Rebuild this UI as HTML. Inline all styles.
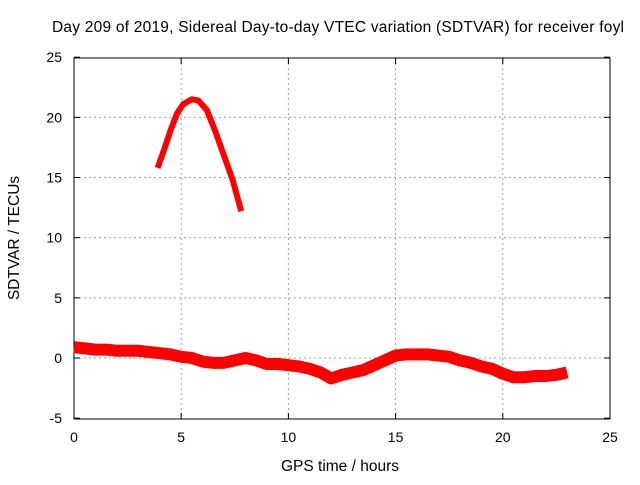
<!DOCTYPE html>
<html><head><meta charset="utf-8"><style>
body{margin:0;background:#fff;}
svg text{font-family:"Liberation Sans",sans-serif;font-size:14px;fill:#000;}
svg text.big{font-size:15.5px;}
</style></head><body>
<svg id="chart" width="640" height="480">
<g id="grid"></g><g id="axes"></g><g id="series"></g>
<text class="big" x="338" y="32" text-anchor="middle" textLength="572">Day 209 of 2019, Sidereal Day-to-day VTEC variation (SDTVAR) for receiver foyl</text>
<text class="big" x="340" y="471" text-anchor="middle">GPS time / hours</text>
<text class="big" transform="translate(19,238) rotate(-90)" text-anchor="middle">SDTVAR / TECUs</text>
</svg>
<script>
const xTicks=[0,5,10,15,20,25];
const yTicks=[-5,0,5,10,15,20,25];
const bottomHours=[0,0.5,1,1.5,2,2.5,3,3.5,4,4.5,5,5.5,6,6.5,7,7.5,8,8.5,9,9.5,10,10.5,11,11.5,12,12.5,13,13.5,14,14.5,15,15.5,16,16.5,17,17.5,18,18.5,19,19.5,20,20.5,21,21.5,22,22.5,23];
const bottomValues=[0.9,0.8,0.7,0.7,0.6,0.6,0.6,0.5,0.4,0.3,0.1,0,-0.3,-0.4,-0.4,-0.2,0,-0.2,-0.5,-0.5,-0.6,-0.7,-0.9,-1.2,-1.7,-1.4,-1.2,-1,-0.6,-0.2,0.2,0.3,0.3,0.3,0.2,0.1,-0.2,-0.4,-0.7,-0.9,-1.3,-1.6,-1.6,-1.5,-1.5,-1.4,-1.2];
const topHours=[3.9,4.2,4.5,4.8,5.1,5.5,5.8,6.2,6.6,7,7.4,7.8];
const topValues=[15.8,17.3,18.9,20.3,21.1,21.5,21.4,20.6,18.8,16.8,14.8,12.2];
const X=v=>74+v*(536/25), Y=v=>358-v*(361/30);
const ns="http://www.w3.org/2000/svg";
const grid=document.getElementById('grid'),axes=document.getElementById('axes'),ser=document.getElementById('series');
function mk(p,t,a){const e=document.createElementNS(ns,t);for(const k in a)e.setAttribute(k,a[k]);p.appendChild(e);return e;}
xTicks.forEach(t=>{
 if(t>0&&t<25){const g=mk(grid,'line',{x1:X(t),x2:X(t),y1:58,y2:419,stroke:'#a0a0a0','stroke-dasharray':'2,3'});
 
 }
 const l=mk(axes,'text',{x:X(t),y:442,'text-anchor':'middle'});l.textContent=t;
 
 
 mk(axes,'line',{x1:X(t),x2:X(t),y1:419,y2:413,stroke:'#000'});mk(axes,'line',{x1:X(t),x2:X(t),y1:58,y2:64,stroke:'#000'});
});
yTicks.forEach(t=>{
 if(t>-5&&t<25){const g=mk(grid,'line',{x1:74,x2:610,y1:Y(t),y2:Y(t),stroke:'#a0a0a0','stroke-dasharray':'2,3'});
 
 }
 const l=mk(axes,'text',{x:62,y:Y(t)+5,'text-anchor':'end'});l.textContent=t;
 
 
 mk(axes,'line',{x1:74,x2:80,y1:Y(t),y2:Y(t),stroke:'#000'});mk(axes,'line',{x1:604,x2:610,y1:Y(t),y2:Y(t),stroke:'#000'});
});
const frame=mk(axes,'rect',{x:74,y:58,width:536,height:361,fill:'none',stroke:'#000'});


const b=mk(ser,'polyline',{points:bottomHours.map((h,i)=>X(h)+','+Y(bottomValues[i])).join(' '),fill:'none',stroke:'#ff0000','stroke-width':12,'stroke-linejoin':'round'});


const t=mk(ser,'polyline',{points:topHours.map((h,i)=>X(h)+','+Y(topValues[i])).join(' '),fill:'none',stroke:'#ff0000','stroke-width':6,'stroke-linejoin':'round'});


</script>
</body></html>
